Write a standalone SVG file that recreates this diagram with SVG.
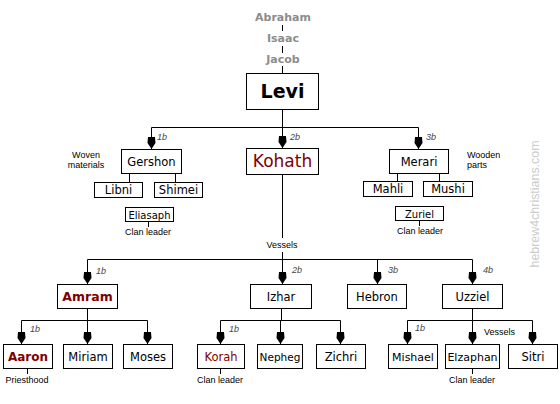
<svg xmlns="http://www.w3.org/2000/svg" width="560" height="404" viewBox="0 0 560 404">
<style>
rect{fill:#fff;stroke:#000;stroke-width:1}
.c path{fill:none;stroke:#000;stroke-width:1}
.n{font-family:"DejaVu Sans",Verdana,sans-serif;font-size:11.5px;text-anchor:middle;fill:#000}
.red{fill:#800000}
.anc{font-family:"DejaVu Sans",Verdana,sans-serif;font-size:11px;font-weight:bold;text-anchor:middle;fill:#8c8c8c}
.s{font-family:"Liberation Sans",Arial,sans-serif;font-size:9px;fill:#000}
.m{text-anchor:middle}
.num{font-family:"Liberation Sans",Arial,sans-serif;font-size:9px;font-style:italic;fill:#444}
.sm{font-family:"DejaVu Sans",Verdana,sans-serif;font-size:10px;text-anchor:middle;fill:#000}
</style>
<defs>
<marker id="ah" viewBox="-13 -5 14 10" refX="0" refY="0" markerWidth="14" markerHeight="10" orient="auto" markerUnits="userSpaceOnUse">
<path d="M0,0 L-6,-4 L-12,-3.5 L-12,3.5 L-6,4 Z" fill="#000"/>
</marker>
</defs>
<rect x="0" y="0" width="560" height="404" style="stroke:none"/>
<text x="0" y="0" transform="translate(539,204) rotate(-90)" text-anchor="middle" font-family="Liberation Sans,Arial,sans-serif" font-size="12" fill="#cccccc" textLength="127" lengthAdjust="spacingAndGlyphs">hebrew4christians.com</text>

<g id="ancestors">
<text class="anc" x="283" y="21">Abraham</text>
<text class="anc" x="283" y="42">Isaac</text>
<text class="anc" x="283" y="63">Jacob</text>
</g>

<g class="c" id="connectors">
<path d="M282.5,25 V31 M282.5,46 V53 M282.5,66 V73"/>
<path d="M282.5,109.5 V127.5 M151.5,127.5 H418.5"/>
<path d="M151.5,127.5 V149" marker-end="url(#ah)"/>
<path d="M282.5,127.5 V148" marker-end="url(#ah)"/>
<path d="M418.5,127.5 V149" marker-end="url(#ah)"/>
<path d="M129.5,173.5 V182.5 M175.5,173.5 V182.5 M397.5,173.5 V181.5 M439.5,173.5 V181.5"/>
<path d="M148.5,221.5 V227 M419.5,220.5 V226"/>
<path d="M282.5,174.5 V238 M87.5,259.5 H472.5"/>
<path d="M282.5,252 V284" marker-end="url(#ah)"/>
<path d="M87.5,259.5 V284" marker-end="url(#ah)"/>
<path d="M377.5,259.5 V284" marker-end="url(#ah)"/>
<path d="M472.5,259.5 V284" marker-end="url(#ah)"/>
<path d="M87.5,308.5 V320.5 M21.5,320.5 H147.5 M281.5,308.5 V320.5 M220.5,320.5 H340.5 M472.5,308.5 V320.5 M407.5,320.5 H532.5"/>
<path d="M21.5,320.5 V344" marker-end="url(#ah)"/>
<path d="M87.5,320.5 V344" marker-end="url(#ah)"/>
<path d="M147.5,320.5 V344" marker-end="url(#ah)"/>
<path d="M220.5,320.5 V344" marker-end="url(#ah)"/>
<path d="M280.5,320.5 V344" marker-end="url(#ah)"/>
<path d="M340.5,320.5 V344" marker-end="url(#ah)"/>
<path d="M407.5,320.5 V344" marker-end="url(#ah)"/>
<path d="M472.5,320.5 V344" marker-end="url(#ah)"/>
<path d="M532.5,320.5 V344" marker-end="url(#ah)"/>
<path d="M27.5,368.5 V374 M220.5,368.5 V374 M472.5,368.5 V374"/>
<text class="num" x="157" y="140">1b</text>
<text class="num" x="290" y="140">2b</text>
<text class="num" x="426" y="140">3b</text>
<text class="num" x="96" y="274">1b</text>
<text class="num" x="292" y="273">2b</text>
<text class="num" x="388" y="273">3b</text>
<text class="num" x="483" y="273">4b</text>
<text class="num" x="30" y="332">1b</text>
<text class="num" x="229" y="332">1b</text>
<text class="num" x="415" y="331">1b</text>
<text class="s m" x="282" y="248">Vessels</text>
<text class="s" x="484" y="335">Vessels</text>
</g>

<g id="levi"><rect x="246.5" y="73.5" width="72" height="36"/><text x="282.5" y="98" text-anchor="middle" font-family="DejaVu Sans,Verdana,sans-serif" font-size="19" font-weight="bold">Levi</text></g>

<g id="gershon"><rect x="121.5" y="149.5" width="60" height="24"/><text class="n" x="151.5" y="166">Gershon</text>
<text class="s m" x="86" y="158">Woven</text><text class="s m" x="86" y="168">materials</text></g>
<g id="kohath"><rect x="246.5" y="148.5" width="72" height="26"/><text class="n red" x="282.5" y="167" style="font-size:17px">Kohath</text></g>
<g id="merari"><rect x="389.5" y="149.5" width="59" height="24"/><text class="n" x="419" y="166">Merari</text>
<text class="s" x="467" y="158">Wooden</text><text class="s" x="467" y="168">parts</text></g>

<g id="libni"><rect x="94.5" y="182.5" width="48" height="15"/><text class="n" x="118.5" y="194">Libni</text></g>
<g id="shimei"><rect x="154.5" y="182.5" width="48" height="15"/><text class="n" x="178.5" y="194">Shimei</text></g>
<g id="mahli"><rect x="363.5" y="181.5" width="49" height="15"/><text class="n" x="388" y="193">Mahli</text></g>
<g id="mushi"><rect x="423.5" y="181.5" width="49" height="15"/><text class="n" x="448" y="193">Mushi</text></g>

<g id="eliasaph"><rect x="125.5" y="207.5" width="48" height="14"/><text class="sm" x="149.5" y="218.5">Eliasaph</text>
<text class="s m" x="148" y="235">Clan leader</text></g>
<g id="zuriel"><rect x="395.5" y="206.5" width="48" height="14"/><text class="sm" x="419.5" y="217.5">Zuriel</text>
<text class="s m" x="420" y="234">Clan leader</text></g>

<g id="amram"><rect x="57.5" y="284.5" width="60" height="24"/><text class="n red" x="87.5" y="301" style="font-size:12.5px;font-weight:bold">Amram</text></g>
<g id="izhar"><rect x="250.5" y="284.5" width="61" height="24"/><text class="n" x="281" y="301">Izhar</text></g>
<g id="hebron"><rect x="347.5" y="284.5" width="59" height="24"/><text class="n" x="377" y="301">Hebron</text></g>
<g id="uzziel"><rect x="442.5" y="284.5" width="60" height="24"/><text class="n" x="472.5" y="301">Uzziel</text></g>

<g id="aaron"><rect x="3.5" y="344.5" width="49" height="24"/><text class="n red" x="28" y="361" style="font-size:12px;font-weight:bold">Aaron</text>
<text class="s m" x="27" y="383">Priesthood</text></g>
<g id="miriam"><rect x="63.5" y="344.5" width="49" height="24"/><text class="n" x="88" y="361">Miriam</text></g>
<g id="moses"><rect x="123.5" y="344.5" width="49" height="24"/><text class="n" x="148" y="361">Moses</text></g>
<g id="korah"><rect x="197.5" y="344.5" width="47" height="24"/><text class="n red" x="221" y="361">Korah</text>
<text class="s m" x="220" y="383">Clan leader</text></g>
<g id="nepheg"><rect x="257.5" y="344.5" width="45" height="24"/><text class="n" x="280" y="361" style="font-size:10.5px">Nepheg</text></g>
<g id="zichri"><rect x="316.5" y="344.5" width="49" height="24"/><text class="n" x="341" y="361">Zichri</text></g>
<g id="mishael"><rect x="388.5" y="344.5" width="49" height="24"/><text class="n" x="413" y="361" style="font-size:11px">Mishael</text></g>
<g id="elzaphan"><rect x="445.5" y="344.5" width="54" height="24"/><text class="n" x="472.5" y="361" style="font-size:11px">Elzaphan</text>
<text class="s m" x="472" y="383">Clan leader</text></g>
<g id="sitri"><rect x="508.5" y="344.5" width="49" height="24"/><text class="n" x="533" y="361">Sitri</text></g>
</svg>
